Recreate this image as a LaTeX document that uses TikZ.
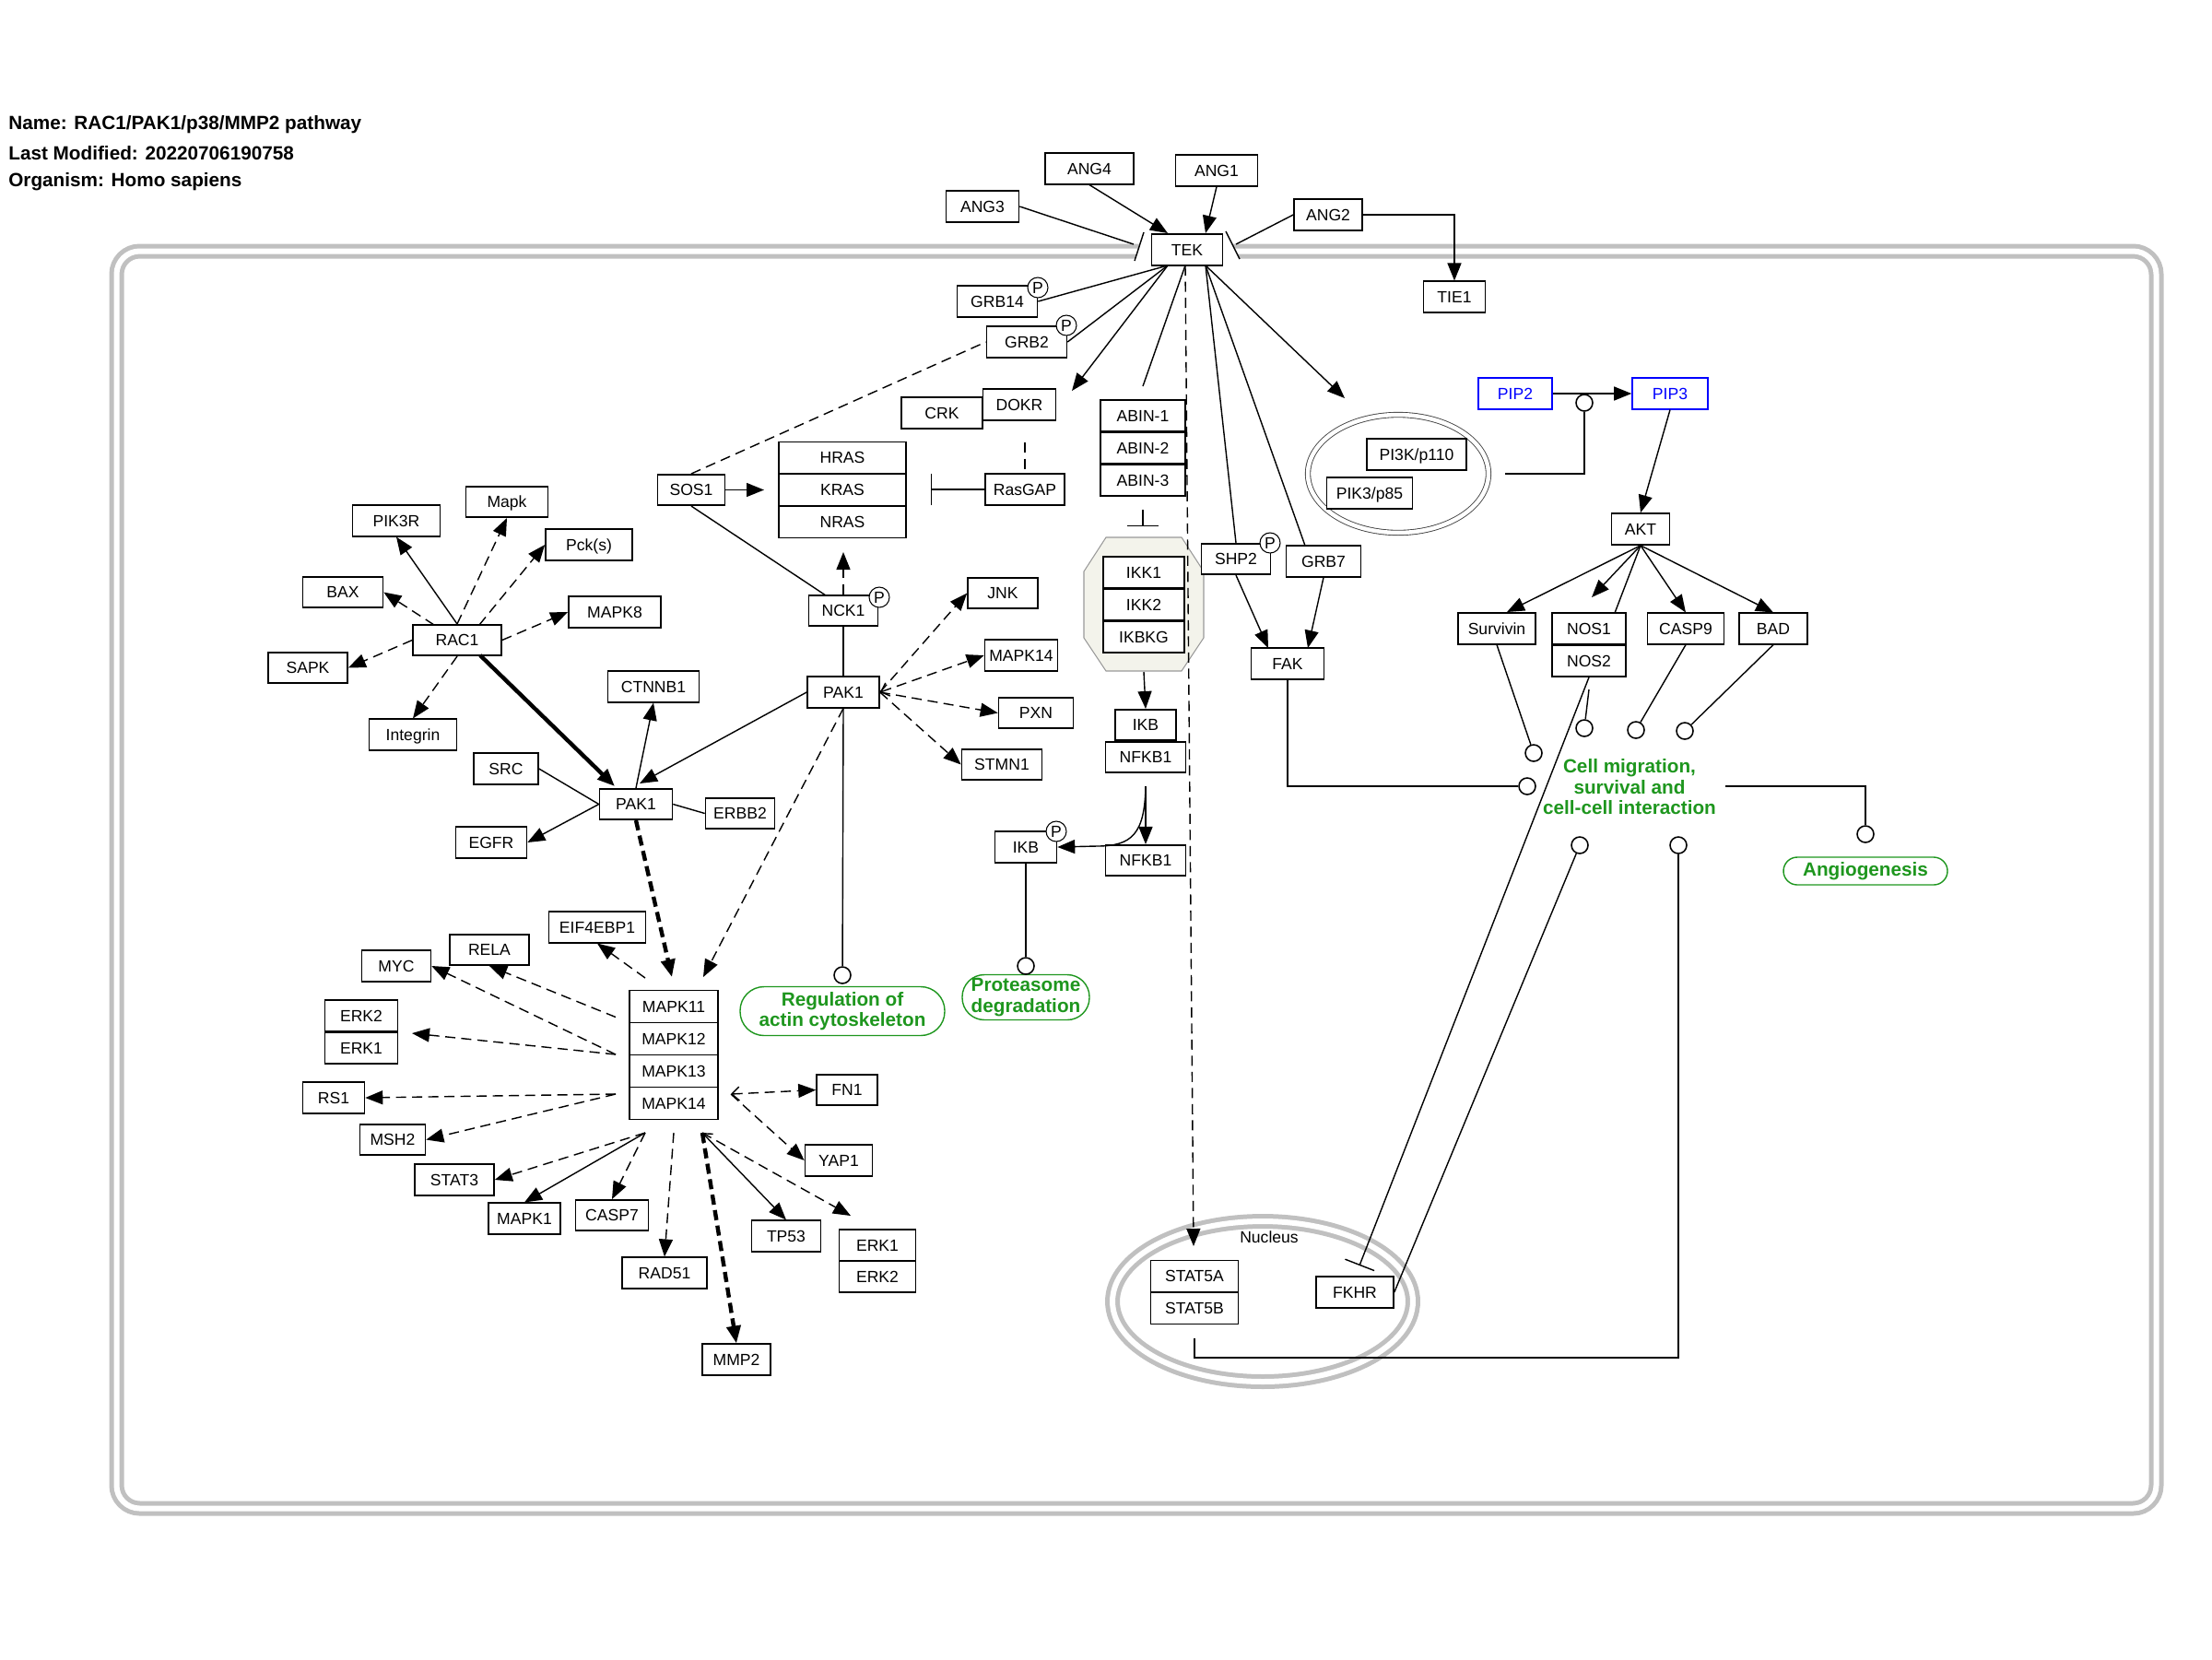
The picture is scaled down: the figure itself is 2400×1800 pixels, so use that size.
\documentclass[tikz,border=0pt]{standalone}
\usepackage{fontspec}
\setmainfont{Liberation Sans}
\usetikzlibrary{arrows.meta}
\newcommand{\genefont}{\fontsize{10}{12}\selectfont}
\newcommand{\labfont}{\fontsize{11.8}{12.8}\selectfont\bfseries}
\definecolor{pwgreen}{RGB}{30,150,30}
\definecolor{memgray}{RGB}{192,192,192}
\definecolor{ikkfill}{RGB}{243,243,235}

\begin{document}
\begin{tikzpicture}[
  x=0.02cm, y=-0.02cm,
  gene/.style={draw, line width=0.9pt, fill=white, inner sep=0pt, minimum height=0.67cm,
    text height=0.25cm, text depth=0pt, font=\genefont},
  wd/.style={minimum width=#1*0.02cm},
  ht/.style={minimum height=#1*0.02cm},
  metab/.style={gene, draw=blue, text=blue},
  pmark/.style={circle, draw, line width=0.6pt, fill=white, inner sep=0pt, minimum size=0.44cm,
    font=\genefont, text height=0.25cm, text depth=0pt},
  cat/.style={circle, draw, line width=0.9pt, fill=white, inner sep=0pt, minimum size=0.36cm},
  pathlab/.style={draw=pwgreen, line width=0.8pt, rounded corners=0.5cm, text=pwgreen,
    font=\labfont, align=center, inner sep=0pt},
  hdr/.style={anchor=west, inner sep=0pt, font=\fontsize{11.8}{14}\selectfont\bfseries},
  link/.style={line width=0.8pt},
  arr/.style={link, -{Triangle[length=0.38cm, width=0.3cm]}},
  dashlink/.style={link, dash pattern=on 0.22cm off 0.13cm},
  dasharr/.style={arr, dash pattern=on 0.22cm off 0.13cm},
  heavyarr/.style={arr, line width=2.5pt},
  heavydash/.style={heavyarr, dash pattern=on 0.22cm off 0.12cm},
  barbarr/.style={link, {Straight Barb[length=0.16cm, width=0.3cm]}-{Triangle[length=0.38cm, width=0.3cm]}},
  dashbarb/.style={barbarr, dash pattern=on 0.22cm off 0.13cm},
  inh/.style={link, -{Bar[width=0.68cm, line width=0.8pt]}},
  membrane/.style={draw=memgray, line width=0.1cm, double=white, double distance=0.12cm},
]
  \useasboundingbox (0,0) rectangle (2400,1800);

  % ===== header =====
  \node[hdr] (hname) at (9,135) {Name: RAC1/PAK1/p38/MMP2 pathway};
  \node[hdr] (hdate) at (9,166) {Last Modified: 20220706190758};
  \node[hdr] (horg) at (9,197) {Organism: Homo sapiens};

  % ===== compartments =====
  \draw[membrane, rounded corners=0.5cm] (126.5,272.5) rectangle (2339.5,1636.5);
  \fill[white] (1231,283) -- (1241,252) -- (1330,251) -- (1345,281) -- cycle;
  \draw[link] (1231,283) -- (1241,252);
  \draw[link] (1330,251) -- (1345,281);
  \draw[membrane] (1370,1412) ellipse [x radius=3.26cm, y radius=1.74cm];
  \node[font=\genefont] (nuclab) at (1377,1342) {Nucleus};
  \draw[draw=black!75, line width=0.5pt, double=white, double distance=0.09cm]
    (1517,514) ellipse [x radius=1.96cm, y radius=1.28cm];
  \draw[draw=black!40, fill=ikkfill, line width=0.6pt] (1200,583) -- (1282,583) -- (1306,620)
    -- (1306,692) -- (1282,728) -- (1200,728) -- (1176,692) -- (1176,620) -- cycle;

  % ===== receptor TEK =====
  \node[gene, wd=96] (ANG4) at (1182,183) {ANG4};
  \node[gene, wd=89] (ANG1) at (1320,185) {ANG1};
  \node[gene, wd=79] (ANG3) at (1066,224) {ANG3};
  \node[gene, wd=74] (ANG2) at (1441,233) {ANG2};
  \node[gene, wd=77] (TEK) at (1288,271) {TEK};
  \node[gene, wd=67] (TIE1) at (1578,322) {TIE1};
  \node[gene, wd=87] (GRB14) at (1082,327) {GRB14};
  \node[gene, wd=87] (GRB2) at (1114,371) {GRB2};
  \node[gene, wd=88] (CRK) at (1022,448) {CRK};
  \node[gene, wd=79] (DOKR) at (1106,439) {DOKR};
  \node[gene, wd=86] (RasGAP) at (1112,531) {RasGAP};
  \node[gene, wd=92, ht=34] (ABIN1) at (1240,451) {ABIN-1};
  \node[gene, wd=92, ht=34] (ABIN2) at (1240,486) {ABIN-2};
  \node[gene, wd=92, ht=34] (ABIN3) at (1240,521) {ABIN-3};

  % ===== RAS / NCK1 / PAK1 =====
  \node[gene, wd=138, ht=34] (HRAS) at (914,496.5) {HRAS};
  \node[gene, wd=138, ht=34] (KRAS) at (914,531.5) {KRAS};
  \node[gene, wd=138, ht=34] (NRAS) at (914,566.5) {NRAS};
  \node[gene, wd=73] (SOS1) at (750,531.5) {SOS1};
  \node[gene, wd=75] (NCK1) at (915,662.5) {NCK1};
  \node[gene, wd=78] (PAK1R) at (915,751) {PAK1};
  \node[gene, wd=76] (JNK) at (1088,643.5) {JNK};
  \node[gene, wd=79] (MAPKs14) at (1108,711) {MAPK14};
  \node[gene, wd=81] (PXN) at (1124,773.5) {PXN};
  \node[gene, wd=87] (STMN1) at (1087,829.5) {STMN1};

  % ===== RAC1 / PAK1 =====
  \node[gene, wd=96] (RAC1) at (496,694.5) {RAC1};
  \node[gene, wd=95] (PIK3R) at (430,565) {PIK3R};
  \node[gene, wd=89] (Mapk) at (550,544.5) {Mapk};
  \node[gene, wd=94] (Pck) at (639,591) {Pck(s)};
  \node[gene, wd=87] (BAX) at (372,642.5) {BAX};
  \node[gene, wd=100] (MAPK8) at (667,664) {MAPK8};
  \node[gene, wd=86] (SAPK) at (334,724.5) {SAPK};
  \node[gene, wd=95] (Integrin) at (448,797) {Integrin};
  \node[gene, wd=79] (PAK1L) at (690,872.5) {PAK1};
  \node[gene, wd=99] (CTNNB1) at (709,745) {CTNNB1};
  \node[gene, wd=70] (SRC) at (549,834) {SRC};
  \node[gene, wd=77] (EGFR) at (533,914) {EGFR};
  \node[gene, wd=75] (ERBB2) at (803,882.5) {ERBB2};

  % ===== p38 targets =====
  \node[gene, wd=105] (EIF4EBP1) at (648,1006) {EIF4EBP1};
  \node[gene, wd=86] (RELA) at (531,1030.5) {RELA};
  \node[gene, wd=75] (MYC) at (430,1048) {MYC};
  \node[gene, wd=96, ht=35] (MAPK11) at (731,1092) {MAPK11};
  \node[gene, wd=96, ht=35] (MAPK12) at (731,1127) {MAPK12};
  \node[gene, wd=96, ht=35] (MAPK13) at (731,1162) {MAPK13};
  \node[gene, wd=96, ht=35] (MAPK14) at (731,1197) {MAPK14};
  \node[gene, wd=79, ht=34] (ERK2L) at (392,1102) {ERK2};
  \node[gene, wd=79, ht=34] (ERK1L) at (392,1137) {ERK1};
  \node[gene, wd=67] (RS1) at (362,1191) {RS1};
  \node[gene, wd=71] (MSH2) at (426,1236.5) {MSH2};
  \node[gene, wd=86] (STAT3) at (493,1280) {STAT3};
  \node[gene, wd=78] (MAPK1) at (569,1322) {MAPK1};
  \node[gene, wd=79] (CASP7) at (664,1318.5) {CASP7};
  \node[gene, wd=92] (RAD51) at (721,1381) {RAD51};
  \node[gene, wd=74] (MMP2) at (799,1475) {MMP2};
  \node[gene, wd=75] (TP53) at (853,1341) {TP53};
  \node[gene, wd=83, ht=34] (ERK1R) at (952,1351) {ERK1};
  \node[gene, wd=83, ht=34] (ERK2R) at (952,1385) {ERK2};
  \node[gene, wd=66] (FN1) at (919,1182.5) {FN1};
  \node[gene, wd=73] (YAP1) at (910,1259) {YAP1};

  % ===== NF-kB branch =====
  \node[gene, wd=88, ht=34] (IKK1) at (1241,621) {IKK1};
  \node[gene, wd=88, ht=34] (IKK2) at (1241,656) {IKK2};
  \node[gene, wd=88, ht=34] (IKBKG) at (1241,691) {IKBKG};
  \node[gene, wd=66] (IKB) at (1243,786.5) {IKB};
  \node[gene, wd=87] (NFKB1a) at (1243,821.5) {NFKB1};
  \node[gene, wd=87] (NFKB1b) at (1243,933.5) {NFKB1};
  \node[gene, wd=67, ht=34] (IKBp) at (1113,919) {IKB};

  % ===== PI3K / AKT branch =====
  \node[gene, wd=75] (SHP2) at (1341,606.5) {SHP2};
  \node[gene, wd=81] (GRB7) at (1436,609) {GRB7};
  \node[gene, wd=79, ht=34] (FAK) at (1397,720) {FAK};
  \node[gene, wd=108] (PI3K) at (1537,493) {PI3K/p110};
  \node[gene, wd=93] (PIK3) at (1486,535) {PIK3/p85};
  \node[metab, wd=80] (PIP2) at (1644,427) {PIP2};
  \node[metab, wd=82] (PIP3) at (1812,427) {PIP3};
  \node[gene, wd=63, ht=34] (AKT) at (1780,574) {AKT};
  \node[gene, wd=84] (Survivin) at (1624,682) {Survivin};
  \node[gene, wd=80, ht=34] (NOS1) at (1724,682) {NOS1};
  \node[gene, wd=80, ht=34] (NOS2) at (1724,717) {NOS2};
  \node[gene, wd=83] (CASP9) at (1829,682) {CASP9};
  \node[gene, wd=74] (BAD) at (1924,682) {BAD};

  % ===== nucleus =====
  \node[gene, wd=95, ht=34] (STAT5A) at (1296,1384.5) {STAT5A};
  \node[gene, wd=95, ht=34] (STAT5B) at (1296,1419.5) {STAT5B};
  \node[gene, wd=84, ht=34] (FKHR) at (1470,1402) {FKHR};

  % ===== processes =====
  \node[text=pwgreen, font=\labfont, align=center] (cellmig) at (1768,854)
    {Cell migration,\\survival and\\cell-cell interaction};
  \node[pathlab, wd=178, ht=30, rounded corners=0.3cm] (angio) at (2024,945) {Angiogenesis};
  \node[pathlab, wd=222, ht=53, rounded corners=0.52cm] (actin) at (914,1097)
    {Regulation of\\actin cytoskeleton};
  \node[pathlab, wd=138, ht=49, rounded corners=0.48cm] (prot) at (1113,1082)
    {Proteasome\\degradation};

  \node[cat] (cSurv) at (1664,817) {};
  \node[cat] (cNOS) at (1719,790) {};
  \node[cat] (cCASP) at (1775,792) {};
  \node[cat] (cBAD) at (1828,793) {};
  \node[cat] (cFAK) at (1657,853) {};
  \node[cat] (cFK) at (1714,917) {};
  \node[cat] (cST) at (1821,917) {};
  \node[cat] (cAng) at (2024,905) {};
  \node[cat] (cAct) at (914,1058) {};
  \node[cat] (cProt) at (1113,1048) {};
  \node[cat] (cPIP) at (1719,437) {};

  % ===== free ends =====
  \coordinate (aANG3) at (1230,265);
  \coordinate (aANG4) at (1267,253);
  \coordinate (aANG1) at (1308,253);
  \coordinate (aANG2) at (1341,265);
  \coordinate (tekL) at (1267,288);
  \coordinate (tekM) at (1286,288);
  \coordinate (tekR) at (1308,288);
  \coordinate (tCRK) at (1163,424);
  \coordinate (tABIN) at (1240,419);
  \coordinate (tPI3K) at (1459,432);
  \coordinate (tGRB7) at (1416,592);
  \coordinate (tSTAT) at (1295,1352);
  \coordinate (rasDash) at (1112,480);
  \coordinate (rasBar) at (1010,531);
  \coordinate (abinS) at (1240,553);
  \coordinate (abinE) at (1240,571);
  \coordinate (sosTip) at (829,531.5);
  \coordinate (nckL) at (896,646);
  \coordinate (nckTip) at (915,599);
  \coordinate (pakTip) at (694,850);
  \coordinate (racS) at (521,711);
  \coordinate (racTip) at (667,853);
  \coordinate (racNE) at (520,678);
  \coordinate (racNW) at (471,678);
  \coordinate (mapTipA) at (729,1060);
  \coordinate (mapTipB) at (763,1060);
  \coordinate (hA) at (700,1061);
  \coordinate (hB) at (668,1103.5);
  \coordinate (hC) at (668,1144);
  \coordinate (hD) at (668,1187);
  \coordinate (hE) at (700,1229);
  \coordinate (hF) at (731,1229);
  \coordinate (hG) at (762,1229);
  \coordinate (hH) at (793,1187);
  \coordinate (erkLTip) at (447,1121);
  \coordinate (erkRTip) at (923,1319);
  \coordinate (ikkB) at (1241,729);
  \coordinate (nfS) at (1243,853);
  \coordinate (nfBend) at (1190,918);
  \coordinate (fakL) at (1376,703);
  \coordinate (fakR) at (1419,703);
  \coordinate (pikE) at (1633,514);
  \coordinate (tSurv) at (1635,664);
  \coordinate (tNOS) at (1727,648);
  \coordinate (tNOSb) at (1752,665);
  \coordinate (nosS) at (1724,748);
  \coordinate (fkBar) at (1475,1373);
  \coordinate (cellR) at (1872,853);
  \coordinate (stS) at (1296,1452);

  % ===== TEK connectors =====
  \draw[link] (ANG3.east) -- (aANG3);
  \draw[arr] (ANG4.south) -- (aANG4);
  \draw[arr] (ANG1.south) -- (aANG1);
  \draw[link] (ANG2.west) -- (aANG2);
  \draw[arr] (ANG2.east) -| (TIE1.north);
  \draw[link] (tekL) -- (GRB14.east);
  \draw[link] (tekL) -- (GRB2.east);
  \draw[arr] (tekL) -- (tCRK);
  \draw[link] (tekM) -- (tABIN);
  \draw[link] (tekR) -- (SHP2.north);
  \draw[link] (tekR) -- (tGRB7);
  \draw[arr] (tekR) -- (tPI3K);
  \draw[dashlink] (rasDash) -- (RasGAP.north);
  \draw[inh] (RasGAP.west) -- (rasBar);
  \draw[inh] (abinS) -- (abinE);

  % ===== RAS / PAK1 connectors =====
  \draw[arr] (SOS1.east) -- (sosTip);
  \draw[dashlink] (SOS1.north) -- (GRB2.west);
  \draw[link] (SOS1.south) -- (nckL);
  \draw[dasharr] (NCK1.north) -- (nckTip);
  \draw[link] (NCK1.south) -- (PAK1R.north);
  \draw[dasharr] (PAK1R.east) -- (JNK.west);
  \draw[dashbarb] (PAK1R.east) -- (MAPKs14.west);
  \draw[dasharr] (PAK1R.east) -- (PXN.west);
  \draw[dasharr] (PAK1R.east) -- (STMN1.west);
  \draw[arr] (PAK1R.west) -- (pakTip);
  \draw[link] (PAK1R.south) -- (cAct);
  \draw[dasharr] (PAK1R.south) -- (mapTipB);

  % ===== RAC1 connectors =====
  \draw[arr] (RAC1.north) -- (PIK3R.south);
  \draw[dasharr] (RAC1.north) -- (Mapk.south);
  \draw[dasharr] (racNE) -- (Pck.west);
  \draw[dasharr] (racNW) -- (BAX.east);
  \draw[dasharr] (RAC1.east) -- (MAPK8.west);
  \draw[dasharr] (RAC1.west) -- (SAPK.east);
  \draw[dasharr] (RAC1.south) -- (Integrin.north);
  \draw[heavyarr] (racS) -- (racTip);
  \draw[arr] (PAK1L.north) -- (CTNNB1.south);
  \draw[link] (SRC.east) -- (PAK1L.west);
  \draw[arr] (PAK1L.west) -- (EGFR.east);
  \draw[link] (PAK1L.east) -- (ERBB2.west);
  \draw[heavydash] (PAK1L.south) -- (mapTipA);

  % ===== p38 connectors =====
  \draw[dasharr] (hA) -- (EIF4EBP1.south);
  \draw[dasharr] (hB) -- (RELA.south);
  \draw[dasharr] (hC) -- (MYC.east);
  \draw[dasharr] (hC) -- (erkLTip);
  \draw[dasharr] (hD) -- (RS1.east);
  \draw[dasharr] (hD) -- (MSH2.east);
  \draw[dasharr] (hE) -- (STAT3.east);
  \draw[arr] (hE) -- (MAPK1.north);
  \draw[dasharr] (hE) -- (CASP7.north);
  \draw[dasharr] (hF) -- (RAD51.north);
  \draw[heavydash] (hG) -- (MMP2.north);
  \draw[barbarr] (hG) -- (TP53.north);
  \draw[dasharr] (hG) -- (erkRTip);
  \draw[dashbarb] (hH) -- (FN1.west);
  \draw[dasharr] (hH) -- (YAP1.west);

  % ===== NF-kB connectors =====
  \draw[arr] (ikkB) -- (IKB.north);
  \draw[arr] (nfS) -- (NFKB1b.north);
  \draw[arr] (nfS) .. controls (1242,905) and (1228,918) .. (nfBend) -- (IKBp.east);
  \draw[link] (IKBp.south) -- (cProt);
  \draw[dasharr] (tekM) -- (tSTAT);

  % ===== PI3K / AKT connectors =====
  \draw[arr] (SHP2.south) -- (fakL);
  \draw[arr] (GRB7.south) -- (fakR);
  \draw[link] (FAK.south) |- (cFAK);
  \draw[arr] (PIP2.east) -- (PIP3.west);
  \draw[link] (pikE) -| (cPIP);
  \draw[arr] (PIP3.south) -- (AKT.north);
  \draw[arr] (AKT.south) -- (tSurv);
  \draw[arr] (AKT.south) -- (tNOS);
  \draw[link] (AKT.south) -- (tNOSb);
  \draw[arr] (AKT.south) -- (CASP9.north);
  \draw[arr] (AKT.south) -- (BAD.north);
  \draw[link] (Survivin.south) -- (cSurv);
  \draw[link] (nosS) -- (cNOS);
  \draw[inh] (NOS2.south) -- (fkBar);
  \draw[link] (CASP9.south) -- (cCASP);
  \draw[link] (BAD.south) -- (cBAD);
  \draw[link] (cellR) -| (cAng);
  \draw[link] (FKHR.east) -- (cFK);
  \draw[link] (stS) -- ++(0,21) -| (cST);

  % ===== phospho marks =====
  \node[pmark] (pGRB14) at (1126,312) {P};
  \node[pmark] (pGRB2) at (1157,353) {P};
  \node[pmark] (pNCK1) at (954,648) {P};
  \node[pmark] (pSHP2) at (1378,589) {P};
  \node[pmark] (pIKB) at (1146,902) {P};
\end{tikzpicture}
\end{document}
